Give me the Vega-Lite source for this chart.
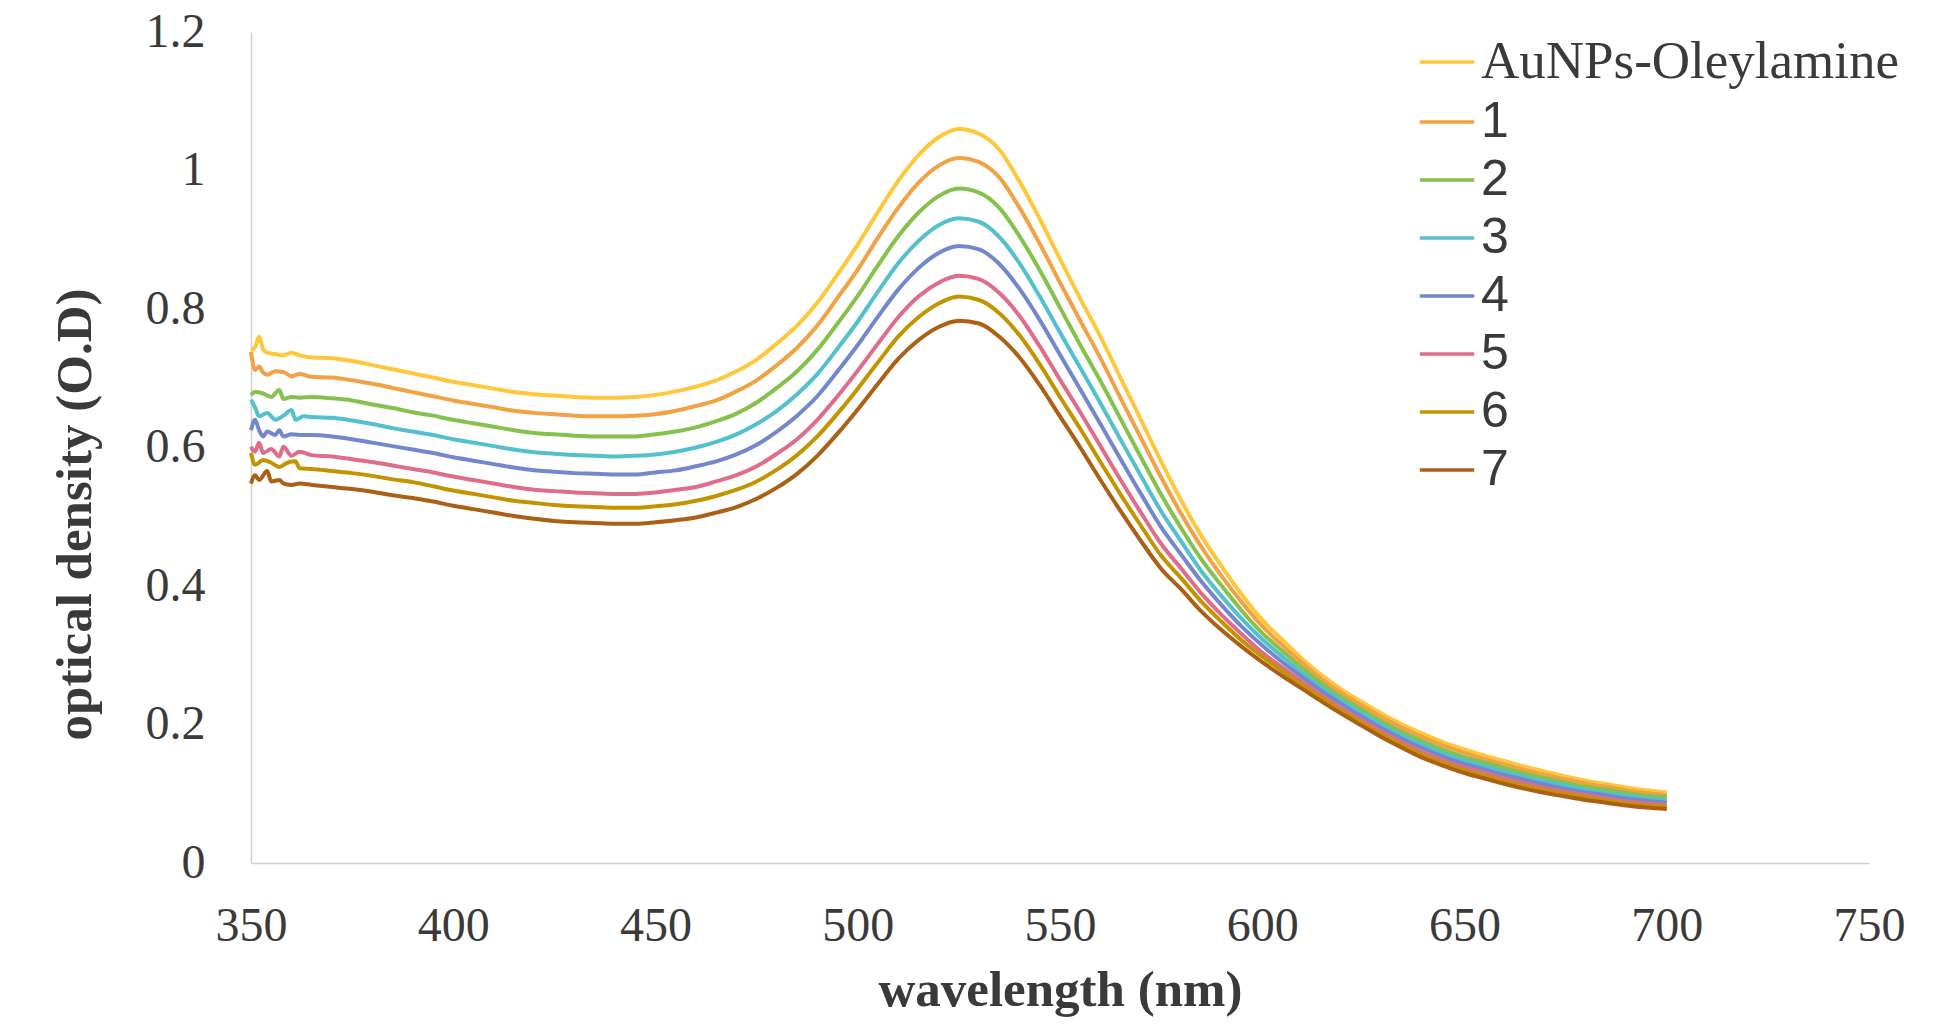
{
"$schema": "https://vega.github.io/schema/vega-lite/v6.json",
"width": 1618, "height": 831,
"autosize": {"type": "none"},
"padding": {"left": 251, "top": 32, "right": 72, "bottom": 164},
"background": "white",
"config": {
  "view": {"stroke": null},
  "axis": {"grid": false, "ticks": false, "tickSize": 0, "domainColor": "#d0d0d0", "domainWidth": 1.5,
    "labelFont": "Liberation Serif", "labelFontSize": 48, "labelColor": "#3a3a3a",
    "titleFont": "Liberation Serif", "titleFontWeight": "bold", "titleFontSize": 51, "titleColor": "#3a3a3a"}
},
"data": {"values": [
{"s":"AuNPs-Oleylamine","x":350,"y":0.740},{"s":"AuNPs-Oleylamine","x":351,"y":0.745},{"s":"AuNPs-Oleylamine","x":352,"y":0.760},{"s":"AuNPs-Oleylamine","x":353,"y":0.742},{"s":"AuNPs-Oleylamine","x":354,"y":0.737},{"s":"AuNPs-Oleylamine","x":356,"y":0.735},{"s":"AuNPs-Oleylamine","x":358,"y":0.733},{"s":"AuNPs-Oleylamine","x":360,"y":0.737},{"s":"AuNPs-Oleylamine","x":362,"y":0.733},{"s":"AuNPs-Oleylamine","x":365,"y":0.730},{"s":"AuNPs-Oleylamine","x":370,"y":0.729},{"s":"AuNPs-Oleylamine","x":375,"y":0.725},{"s":"AuNPs-Oleylamine","x":380,"y":0.719},{"s":"AuNPs-Oleylamine","x":385,"y":0.713},{"s":"AuNPs-Oleylamine","x":390,"y":0.707},{"s":"AuNPs-Oleylamine","x":395,"y":0.701},{"s":"AuNPs-Oleylamine","x":400,"y":0.695},{"s":"AuNPs-Oleylamine","x":405,"y":0.690},{"s":"AuNPs-Oleylamine","x":410,"y":0.685},{"s":"AuNPs-Oleylamine","x":415,"y":0.680},{"s":"AuNPs-Oleylamine","x":420,"y":0.677},{"s":"AuNPs-Oleylamine","x":425,"y":0.675},{"s":"AuNPs-Oleylamine","x":430,"y":0.673},{"s":"AuNPs-Oleylamine","x":435,"y":0.672},{"s":"AuNPs-Oleylamine","x":440,"y":0.672},{"s":"AuNPs-Oleylamine","x":445,"y":0.673},{"s":"AuNPs-Oleylamine","x":450,"y":0.676},{"s":"AuNPs-Oleylamine","x":455,"y":0.681},{"s":"AuNPs-Oleylamine","x":460,"y":0.688},{"s":"AuNPs-Oleylamine","x":465,"y":0.697},{"s":"AuNPs-Oleylamine","x":470,"y":0.710},{"s":"AuNPs-Oleylamine","x":475,"y":0.727},{"s":"AuNPs-Oleylamine","x":480,"y":0.750},{"s":"AuNPs-Oleylamine","x":485,"y":0.776},{"s":"AuNPs-Oleylamine","x":490,"y":0.809},{"s":"AuNPs-Oleylamine","x":495,"y":0.850},{"s":"AuNPs-Oleylamine","x":500,"y":0.893},{"s":"AuNPs-Oleylamine","x":505,"y":0.940},{"s":"AuNPs-Oleylamine","x":510,"y":0.985},{"s":"AuNPs-Oleylamine","x":515,"y":1.022},{"s":"AuNPs-Oleylamine","x":520,"y":1.048},{"s":"AuNPs-Oleylamine","x":525,"y":1.060},{"s":"AuNPs-Oleylamine","x":530,"y":1.053},{"s":"AuNPs-Oleylamine","x":535,"y":1.030},{"s":"AuNPs-Oleylamine","x":540,"y":0.984},{"s":"AuNPs-Oleylamine","x":545,"y":0.930},{"s":"AuNPs-Oleylamine","x":550,"y":0.872},{"s":"AuNPs-Oleylamine","x":555,"y":0.815},{"s":"AuNPs-Oleylamine","x":560,"y":0.760},{"s":"AuNPs-Oleylamine","x":565,"y":0.700},{"s":"AuNPs-Oleylamine","x":570,"y":0.640},{"s":"AuNPs-Oleylamine","x":575,"y":0.580},{"s":"AuNPs-Oleylamine","x":580,"y":0.523},{"s":"AuNPs-Oleylamine","x":585,"y":0.472},{"s":"AuNPs-Oleylamine","x":590,"y":0.428},{"s":"AuNPs-Oleylamine","x":595,"y":0.387},{"s":"AuNPs-Oleylamine","x":600,"y":0.351},{"s":"AuNPs-Oleylamine","x":605,"y":0.322},{"s":"AuNPs-Oleylamine","x":610,"y":0.294},{"s":"AuNPs-Oleylamine","x":615,"y":0.270},{"s":"AuNPs-Oleylamine","x":620,"y":0.249},{"s":"AuNPs-Oleylamine","x":625,"y":0.231},{"s":"AuNPs-Oleylamine","x":630,"y":0.214},{"s":"AuNPs-Oleylamine","x":635,"y":0.199},{"s":"AuNPs-Oleylamine","x":640,"y":0.186},{"s":"AuNPs-Oleylamine","x":645,"y":0.174},{"s":"AuNPs-Oleylamine","x":650,"y":0.164},{"s":"AuNPs-Oleylamine","x":655,"y":0.155},{"s":"AuNPs-Oleylamine","x":660,"y":0.147},{"s":"AuNPs-Oleylamine","x":665,"y":0.139},{"s":"AuNPs-Oleylamine","x":670,"y":0.132},{"s":"AuNPs-Oleylamine","x":675,"y":0.125},{"s":"AuNPs-Oleylamine","x":680,"y":0.119},{"s":"AuNPs-Oleylamine","x":685,"y":0.114},{"s":"AuNPs-Oleylamine","x":690,"y":0.109},{"s":"AuNPs-Oleylamine","x":695,"y":0.105},{"s":"AuNPs-Oleylamine","x":700,"y":0.102},
{"s":"1","x":350,"y":0.738},{"s":"1","x":351,"y":0.712},{"s":"1","x":352,"y":0.717},{"s":"1","x":353,"y":0.708},{"s":"1","x":354,"y":0.705},{"s":"1","x":356,"y":0.710},{"s":"1","x":358,"y":0.709},{"s":"1","x":360,"y":0.703},{"s":"1","x":362,"y":0.706},{"s":"1","x":365,"y":0.702},{"s":"1","x":370,"y":0.701},{"s":"1","x":375,"y":0.697},{"s":"1","x":380,"y":0.692},{"s":"1","x":385,"y":0.686},{"s":"1","x":390,"y":0.680},{"s":"1","x":395,"y":0.674},{"s":"1","x":400,"y":0.668},{"s":"1","x":405,"y":0.663},{"s":"1","x":410,"y":0.658},{"s":"1","x":415,"y":0.653},{"s":"1","x":420,"y":0.650},{"s":"1","x":425,"y":0.648},{"s":"1","x":430,"y":0.646},{"s":"1","x":435,"y":0.645},{"s":"1","x":440,"y":0.645},{"s":"1","x":445,"y":0.646},{"s":"1","x":450,"y":0.648},{"s":"1","x":455,"y":0.653},{"s":"1","x":460,"y":0.660},{"s":"1","x":465,"y":0.668},{"s":"1","x":470,"y":0.681},{"s":"1","x":475,"y":0.697},{"s":"1","x":480,"y":0.719},{"s":"1","x":485,"y":0.744},{"s":"1","x":490,"y":0.776},{"s":"1","x":495,"y":0.816},{"s":"1","x":500,"y":0.857},{"s":"1","x":505,"y":0.903},{"s":"1","x":510,"y":0.946},{"s":"1","x":515,"y":0.982},{"s":"1","x":520,"y":1.007},{"s":"1","x":525,"y":1.018},{"s":"1","x":530,"y":1.012},{"s":"1","x":535,"y":0.990},{"s":"1","x":540,"y":0.946},{"s":"1","x":545,"y":0.894},{"s":"1","x":550,"y":0.838},{"s":"1","x":555,"y":0.783},{"s":"1","x":560,"y":0.729},{"s":"1","x":565,"y":0.671},{"s":"1","x":570,"y":0.614},{"s":"1","x":575,"y":0.557},{"s":"1","x":580,"y":0.504},{"s":"1","x":585,"y":0.456},{"s":"1","x":590,"y":0.414},{"s":"1","x":595,"y":0.376},{"s":"1","x":600,"y":0.342},{"s":"1","x":605,"y":0.314},{"s":"1","x":610,"y":0.288},{"s":"1","x":615,"y":0.264},{"s":"1","x":620,"y":0.244},{"s":"1","x":625,"y":0.226},{"s":"1","x":630,"y":0.209},{"s":"1","x":635,"y":0.194},{"s":"1","x":640,"y":0.181},{"s":"1","x":645,"y":0.169},{"s":"1","x":650,"y":0.159},{"s":"1","x":655,"y":0.150},{"s":"1","x":660,"y":0.142},{"s":"1","x":665,"y":0.134},{"s":"1","x":670,"y":0.127},{"s":"1","x":675,"y":0.121},{"s":"1","x":680,"y":0.115},{"s":"1","x":685,"y":0.110},{"s":"1","x":690,"y":0.105},{"s":"1","x":695,"y":0.101},{"s":"1","x":700,"y":0.098},
{"s":"2","x":350,"y":0.676},{"s":"2","x":351,"y":0.680},{"s":"2","x":353,"y":0.678},{"s":"2","x":355,"y":0.673},{"s":"2","x":357,"y":0.683},{"s":"2","x":358,"y":0.670},{"s":"2","x":360,"y":0.673},{"s":"2","x":362,"y":0.672},{"s":"2","x":365,"y":0.673},{"s":"2","x":370,"y":0.671},{"s":"2","x":375,"y":0.668},{"s":"2","x":380,"y":0.662},{"s":"2","x":385,"y":0.657},{"s":"2","x":390,"y":0.651},{"s":"2","x":395,"y":0.646},{"s":"2","x":400,"y":0.640},{"s":"2","x":405,"y":0.635},{"s":"2","x":410,"y":0.630},{"s":"2","x":415,"y":0.625},{"s":"2","x":420,"y":0.621},{"s":"2","x":425,"y":0.619},{"s":"2","x":430,"y":0.617},{"s":"2","x":435,"y":0.616},{"s":"2","x":440,"y":0.616},{"s":"2","x":445,"y":0.616},{"s":"2","x":450,"y":0.619},{"s":"2","x":455,"y":0.623},{"s":"2","x":460,"y":0.629},{"s":"2","x":465,"y":0.638},{"s":"2","x":470,"y":0.649},{"s":"2","x":475,"y":0.665},{"s":"2","x":480,"y":0.686},{"s":"2","x":485,"y":0.710},{"s":"2","x":490,"y":0.741},{"s":"2","x":495,"y":0.779},{"s":"2","x":500,"y":0.819},{"s":"2","x":505,"y":0.863},{"s":"2","x":510,"y":0.905},{"s":"2","x":515,"y":0.939},{"s":"2","x":520,"y":0.963},{"s":"2","x":525,"y":0.974},{"s":"2","x":530,"y":0.968},{"s":"2","x":535,"y":0.946},{"s":"2","x":540,"y":0.905},{"s":"2","x":545,"y":0.856},{"s":"2","x":550,"y":0.802},{"s":"2","x":555,"y":0.748},{"s":"2","x":560,"y":0.696},{"s":"2","x":565,"y":0.641},{"s":"2","x":570,"y":0.586},{"s":"2","x":575,"y":0.532},{"s":"2","x":580,"y":0.483},{"s":"2","x":585,"y":0.438},{"s":"2","x":590,"y":0.400},{"s":"2","x":595,"y":0.364},{"s":"2","x":600,"y":0.332},{"s":"2","x":605,"y":0.306},{"s":"2","x":610,"y":0.281},{"s":"2","x":615,"y":0.258},{"s":"2","x":620,"y":0.238},{"s":"2","x":625,"y":0.220},{"s":"2","x":630,"y":0.203},{"s":"2","x":635,"y":0.188},{"s":"2","x":640,"y":0.175},{"s":"2","x":645,"y":0.163},{"s":"2","x":650,"y":0.153},{"s":"2","x":655,"y":0.145},{"s":"2","x":660,"y":0.137},{"s":"2","x":665,"y":0.129},{"s":"2","x":670,"y":0.122},{"s":"2","x":675,"y":0.116},{"s":"2","x":680,"y":0.110},{"s":"2","x":685,"y":0.106},{"s":"2","x":690,"y":0.101},{"s":"2","x":695,"y":0.097},{"s":"2","x":700,"y":0.095},
{"s":"3","x":350,"y":0.669},{"s":"3","x":351,"y":0.658},{"s":"3","x":352,"y":0.645},{"s":"3","x":354,"y":0.650},{"s":"3","x":356,"y":0.640},{"s":"3","x":358,"y":0.646},{"s":"3","x":360,"y":0.654},{"s":"3","x":361,"y":0.640},{"s":"3","x":363,"y":0.645},{"s":"3","x":365,"y":0.644},{"s":"3","x":370,"y":0.643},{"s":"3","x":375,"y":0.639},{"s":"3","x":380,"y":0.634},{"s":"3","x":385,"y":0.628},{"s":"3","x":390,"y":0.623},{"s":"3","x":395,"y":0.618},{"s":"3","x":400,"y":0.612},{"s":"3","x":405,"y":0.607},{"s":"3","x":410,"y":0.602},{"s":"3","x":415,"y":0.597},{"s":"3","x":420,"y":0.593},{"s":"3","x":425,"y":0.591},{"s":"3","x":430,"y":0.589},{"s":"3","x":435,"y":0.588},{"s":"3","x":440,"y":0.587},{"s":"3","x":445,"y":0.588},{"s":"3","x":450,"y":0.590},{"s":"3","x":455,"y":0.594},{"s":"3","x":460,"y":0.600},{"s":"3","x":465,"y":0.608},{"s":"3","x":470,"y":0.619},{"s":"3","x":475,"y":0.634},{"s":"3","x":480,"y":0.653},{"s":"3","x":485,"y":0.677},{"s":"3","x":490,"y":0.706},{"s":"3","x":495,"y":0.743},{"s":"3","x":500,"y":0.782},{"s":"3","x":505,"y":0.825},{"s":"3","x":510,"y":0.866},{"s":"3","x":515,"y":0.898},{"s":"3","x":520,"y":0.921},{"s":"3","x":525,"y":0.931},{"s":"3","x":530,"y":0.926},{"s":"3","x":535,"y":0.904},{"s":"3","x":540,"y":0.866},{"s":"3","x":545,"y":0.818},{"s":"3","x":550,"y":0.766},{"s":"3","x":555,"y":0.715},{"s":"3","x":560,"y":0.664},{"s":"3","x":565,"y":0.611},{"s":"3","x":570,"y":0.559},{"s":"3","x":575,"y":0.508},{"s":"3","x":580,"y":0.464},{"s":"3","x":585,"y":0.421},{"s":"3","x":590,"y":0.385},{"s":"3","x":595,"y":0.352},{"s":"3","x":600,"y":0.323},{"s":"3","x":605,"y":0.298},{"s":"3","x":610,"y":0.274},{"s":"3","x":615,"y":0.252},{"s":"3","x":620,"y":0.233},{"s":"3","x":625,"y":0.215},{"s":"3","x":630,"y":0.198},{"s":"3","x":635,"y":0.183},{"s":"3","x":640,"y":0.170},{"s":"3","x":645,"y":0.158},{"s":"3","x":650,"y":0.148},{"s":"3","x":655,"y":0.140},{"s":"3","x":660,"y":0.132},{"s":"3","x":665,"y":0.124},{"s":"3","x":670,"y":0.118},{"s":"3","x":675,"y":0.112},{"s":"3","x":680,"y":0.106},{"s":"3","x":685,"y":0.101},{"s":"3","x":690,"y":0.097},{"s":"3","x":695,"y":0.093},{"s":"3","x":700,"y":0.091},
{"s":"4","x":350,"y":0.625},{"s":"4","x":351,"y":0.640},{"s":"4","x":352,"y":0.625},{"s":"4","x":353,"y":0.616},{"s":"4","x":354,"y":0.623},{"s":"4","x":356,"y":0.618},{"s":"4","x":357,"y":0.625},{"s":"4","x":358,"y":0.616},{"s":"4","x":360,"y":0.619},{"s":"4","x":363,"y":0.618},{"s":"4","x":365,"y":0.618},{"s":"4","x":370,"y":0.616},{"s":"4","x":375,"y":0.612},{"s":"4","x":380,"y":0.607},{"s":"4","x":385,"y":0.602},{"s":"4","x":390,"y":0.597},{"s":"4","x":395,"y":0.592},{"s":"4","x":400,"y":0.586},{"s":"4","x":405,"y":0.581},{"s":"4","x":410,"y":0.576},{"s":"4","x":415,"y":0.571},{"s":"4","x":420,"y":0.567},{"s":"4","x":425,"y":0.565},{"s":"4","x":430,"y":0.563},{"s":"4","x":435,"y":0.562},{"s":"4","x":440,"y":0.561},{"s":"4","x":445,"y":0.561},{"s":"4","x":450,"y":0.564},{"s":"4","x":455,"y":0.567},{"s":"4","x":460,"y":0.573},{"s":"4","x":465,"y":0.580},{"s":"4","x":470,"y":0.590},{"s":"4","x":475,"y":0.604},{"s":"4","x":480,"y":0.623},{"s":"4","x":485,"y":0.646},{"s":"4","x":490,"y":0.674},{"s":"4","x":495,"y":0.710},{"s":"4","x":500,"y":0.748},{"s":"4","x":505,"y":0.789},{"s":"4","x":510,"y":0.828},{"s":"4","x":515,"y":0.859},{"s":"4","x":520,"y":0.881},{"s":"4","x":525,"y":0.891},{"s":"4","x":530,"y":0.886},{"s":"4","x":535,"y":0.865},{"s":"4","x":540,"y":0.829},{"s":"4","x":545,"y":0.784},{"s":"4","x":550,"y":0.734},{"s":"4","x":555,"y":0.684},{"s":"4","x":560,"y":0.634},{"s":"4","x":565,"y":0.583},{"s":"4","x":570,"y":0.533},{"s":"4","x":575,"y":0.485},{"s":"4","x":580,"y":0.445},{"s":"4","x":585,"y":0.406},{"s":"4","x":590,"y":0.372},{"s":"4","x":595,"y":0.341},{"s":"4","x":600,"y":0.314},{"s":"4","x":605,"y":0.290},{"s":"4","x":610,"y":0.268},{"s":"4","x":615,"y":0.247},{"s":"4","x":620,"y":0.228},{"s":"4","x":625,"y":0.210},{"s":"4","x":630,"y":0.193},{"s":"4","x":635,"y":0.178},{"s":"4","x":640,"y":0.165},{"s":"4","x":645,"y":0.153},{"s":"4","x":650,"y":0.143},{"s":"4","x":655,"y":0.135},{"s":"4","x":660,"y":0.127},{"s":"4","x":665,"y":0.120},{"s":"4","x":670,"y":0.113},{"s":"4","x":675,"y":0.107},{"s":"4","x":680,"y":0.102},{"s":"4","x":685,"y":0.098},{"s":"4","x":690,"y":0.093},{"s":"4","x":695,"y":0.090},{"s":"4","x":700,"y":0.087},
{"s":"5","x":350,"y":0.601},{"s":"5","x":351,"y":0.594},{"s":"5","x":352,"y":0.607},{"s":"5","x":353,"y":0.592},{"s":"5","x":355,"y":0.598},{"s":"5","x":357,"y":0.587},{"s":"5","x":358,"y":0.601},{"s":"5","x":360,"y":0.588},{"s":"5","x":362,"y":0.594},{"s":"5","x":365,"y":0.589},{"s":"5","x":370,"y":0.587},{"s":"5","x":375,"y":0.583},{"s":"5","x":380,"y":0.579},{"s":"5","x":385,"y":0.574},{"s":"5","x":390,"y":0.569},{"s":"5","x":395,"y":0.564},{"s":"5","x":400,"y":0.558},{"s":"5","x":405,"y":0.553},{"s":"5","x":410,"y":0.548},{"s":"5","x":415,"y":0.543},{"s":"5","x":420,"y":0.539},{"s":"5","x":425,"y":0.537},{"s":"5","x":430,"y":0.535},{"s":"5","x":435,"y":0.534},{"s":"5","x":440,"y":0.533},{"s":"5","x":445,"y":0.533},{"s":"5","x":450,"y":0.535},{"s":"5","x":455,"y":0.539},{"s":"5","x":460,"y":0.543},{"s":"5","x":465,"y":0.551},{"s":"5","x":470,"y":0.560},{"s":"5","x":475,"y":0.573},{"s":"5","x":480,"y":0.591},{"s":"5","x":485,"y":0.612},{"s":"5","x":490,"y":0.640},{"s":"5","x":495,"y":0.674},{"s":"5","x":500,"y":0.711},{"s":"5","x":505,"y":0.750},{"s":"5","x":510,"y":0.788},{"s":"5","x":515,"y":0.818},{"s":"5","x":520,"y":0.838},{"s":"5","x":525,"y":0.848},{"s":"5","x":530,"y":0.843},{"s":"5","x":535,"y":0.823},{"s":"5","x":540,"y":0.790},{"s":"5","x":545,"y":0.746},{"s":"5","x":550,"y":0.698},{"s":"5","x":555,"y":0.651},{"s":"5","x":560,"y":0.602},{"s":"5","x":565,"y":0.553},{"s":"5","x":570,"y":0.506},{"s":"5","x":575,"y":0.461},{"s":"5","x":580,"y":0.425},{"s":"5","x":585,"y":0.389},{"s":"5","x":590,"y":0.358},{"s":"5","x":595,"y":0.330},{"s":"5","x":600,"y":0.304},{"s":"5","x":605,"y":0.282},{"s":"5","x":610,"y":0.261},{"s":"5","x":615,"y":0.241},{"s":"5","x":620,"y":0.222},{"s":"5","x":625,"y":0.205},{"s":"5","x":630,"y":0.188},{"s":"5","x":635,"y":0.173},{"s":"5","x":640,"y":0.159},{"s":"5","x":645,"y":0.148},{"s":"5","x":650,"y":0.138},{"s":"5","x":655,"y":0.130},{"s":"5","x":660,"y":0.122},{"s":"5","x":665,"y":0.115},{"s":"5","x":670,"y":0.108},{"s":"5","x":675,"y":0.103},{"s":"5","x":680,"y":0.098},{"s":"5","x":685,"y":0.093},{"s":"5","x":690,"y":0.089},{"s":"5","x":695,"y":0.086},{"s":"5","x":700,"y":0.084},
{"s":"6","x":350,"y":0.592},{"s":"6","x":351,"y":0.575},{"s":"6","x":353,"y":0.582},{"s":"6","x":355,"y":0.578},{"s":"6","x":357,"y":0.572},{"s":"6","x":359,"y":0.578},{"s":"6","x":361,"y":0.580},{"s":"6","x":362,"y":0.570},{"s":"6","x":365,"y":0.569},{"s":"6","x":370,"y":0.566},{"s":"6","x":375,"y":0.563},{"s":"6","x":380,"y":0.559},{"s":"6","x":385,"y":0.554},{"s":"6","x":390,"y":0.550},{"s":"6","x":395,"y":0.544},{"s":"6","x":400,"y":0.538},{"s":"6","x":405,"y":0.533},{"s":"6","x":410,"y":0.528},{"s":"6","x":415,"y":0.523},{"s":"6","x":420,"y":0.520},{"s":"6","x":425,"y":0.517},{"s":"6","x":430,"y":0.515},{"s":"6","x":435,"y":0.514},{"s":"6","x":440,"y":0.513},{"s":"6","x":445,"y":0.513},{"s":"6","x":450,"y":0.515},{"s":"6","x":455,"y":0.518},{"s":"6","x":460,"y":0.523},{"s":"6","x":465,"y":0.530},{"s":"6","x":470,"y":0.539},{"s":"6","x":475,"y":0.551},{"s":"6","x":480,"y":0.568},{"s":"6","x":485,"y":0.589},{"s":"6","x":490,"y":0.616},{"s":"6","x":495,"y":0.649},{"s":"6","x":500,"y":0.685},{"s":"6","x":505,"y":0.723},{"s":"6","x":510,"y":0.760},{"s":"6","x":515,"y":0.788},{"s":"6","x":520,"y":0.808},{"s":"6","x":525,"y":0.818},{"s":"6","x":530,"y":0.813},{"s":"6","x":535,"y":0.794},{"s":"6","x":540,"y":0.762},{"s":"6","x":545,"y":0.720},{"s":"6","x":550,"y":0.673},{"s":"6","x":555,"y":0.627},{"s":"6","x":560,"y":0.579},{"s":"6","x":565,"y":0.532},{"s":"6","x":570,"y":0.487},{"s":"6","x":575,"y":0.444},{"s":"6","x":580,"y":0.411},{"s":"6","x":585,"y":0.377},{"s":"6","x":590,"y":0.348},{"s":"6","x":595,"y":0.321},{"s":"6","x":600,"y":0.298},{"s":"6","x":605,"y":0.277},{"s":"6","x":610,"y":0.256},{"s":"6","x":615,"y":0.237},{"s":"6","x":620,"y":0.218},{"s":"6","x":625,"y":0.201},{"s":"6","x":630,"y":0.184},{"s":"6","x":635,"y":0.169},{"s":"6","x":640,"y":0.155},{"s":"6","x":645,"y":0.144},{"s":"6","x":650,"y":0.134},{"s":"6","x":655,"y":0.126},{"s":"6","x":660,"y":0.118},{"s":"6","x":665,"y":0.111},{"s":"6","x":670,"y":0.105},{"s":"6","x":675,"y":0.100},{"s":"6","x":680,"y":0.095},{"s":"6","x":685,"y":0.090},{"s":"6","x":690,"y":0.086},{"s":"6","x":695,"y":0.083},{"s":"6","x":700,"y":0.081},
{"s":"7","x":350,"y":0.548},{"s":"7","x":351,"y":0.560},{"s":"7","x":352,"y":0.553},{"s":"7","x":354,"y":0.566},{"s":"7","x":355,"y":0.551},{"s":"7","x":357,"y":0.553},{"s":"7","x":358,"y":0.548},{"s":"7","x":360,"y":0.546},{"s":"7","x":362,"y":0.548},{"s":"7","x":365,"y":0.546},{"s":"7","x":370,"y":0.543},{"s":"7","x":375,"y":0.540},{"s":"7","x":380,"y":0.536},{"s":"7","x":385,"y":0.531},{"s":"7","x":390,"y":0.527},{"s":"7","x":395,"y":0.522},{"s":"7","x":400,"y":0.516},{"s":"7","x":405,"y":0.511},{"s":"7","x":410,"y":0.506},{"s":"7","x":415,"y":0.501},{"s":"7","x":420,"y":0.497},{"s":"7","x":425,"y":0.494},{"s":"7","x":430,"y":0.492},{"s":"7","x":435,"y":0.491},{"s":"7","x":440,"y":0.490},{"s":"7","x":445,"y":0.490},{"s":"7","x":450,"y":0.492},{"s":"7","x":455,"y":0.495},{"s":"7","x":460,"y":0.499},{"s":"7","x":465,"y":0.506},{"s":"7","x":470,"y":0.514},{"s":"7","x":475,"y":0.526},{"s":"7","x":480,"y":0.542},{"s":"7","x":485,"y":0.562},{"s":"7","x":490,"y":0.588},{"s":"7","x":495,"y":0.620},{"s":"7","x":500,"y":0.655},{"s":"7","x":505,"y":0.692},{"s":"7","x":510,"y":0.728},{"s":"7","x":515,"y":0.755},{"s":"7","x":520,"y":0.774},{"s":"7","x":525,"y":0.783},{"s":"7","x":530,"y":0.779},{"s":"7","x":535,"y":0.760},{"s":"7","x":540,"y":0.730},{"s":"7","x":545,"y":0.690},{"s":"7","x":550,"y":0.645},{"s":"7","x":555,"y":0.600},{"s":"7","x":560,"y":0.553},{"s":"7","x":565,"y":0.508},{"s":"7","x":570,"y":0.465},{"s":"7","x":575,"y":0.425},{"s":"7","x":580,"y":0.395},{"s":"7","x":585,"y":0.363},{"s":"7","x":590,"y":0.336},{"s":"7","x":595,"y":0.312},{"s":"7","x":600,"y":0.290},{"s":"7","x":605,"y":0.270},{"s":"7","x":610,"y":0.251},{"s":"7","x":615,"y":0.232},{"s":"7","x":620,"y":0.214},{"s":"7","x":625,"y":0.197},{"s":"7","x":630,"y":0.180},{"s":"7","x":635,"y":0.165},{"s":"7","x":640,"y":0.151},{"s":"7","x":645,"y":0.140},{"s":"7","x":650,"y":0.130},{"s":"7","x":655,"y":0.122},{"s":"7","x":660,"y":0.114},{"s":"7","x":665,"y":0.107},{"s":"7","x":670,"y":0.101},{"s":"7","x":675,"y":0.096},{"s":"7","x":680,"y":0.091},{"s":"7","x":685,"y":0.087},{"s":"7","x":690,"y":0.083},{"s":"7","x":695,"y":0.080},{"s":"7","x":700,"y":0.078}
]},
"mark": {"type": "line", "strokeWidth": 4, "clip": false, "interpolate": "monotone"},
"encoding": {
  "x": {"field": "x", "type": "quantitative",
    "scale": {"domain": [350, 750], "nice": false, "zero": false},
    "axis": {"values": [350,400,450,500,550,600,650,700,750], "labelPadding": 39, "labelFlush": false,
      "title": "wavelength (nm)", "titleY": 142, "titleBaseline": "alphabetic"}},
  "y": {"field": "y", "type": "quantitative",
    "scale": {"domain": [0, 1.2], "nice": false},
    "axis": {"values": [0,0.2,0.4,0.6,0.8,1,1.2], "format": "~g", "labelPadding": 46, "labelFlush": false,
      "title": "optical density (O.D)", "titleX": -161, "titleY": 482, "titleAngle": 270, "titleAlign": "center", "titleBaseline": "alphabetic"}},
  "color": {"field": "s", "type": "nominal",
    "scale": {"domain": ["AuNPs-Oleylamine","1","2","3","4","5","6","7"],
      "range": ["#FFC83A","#F2A244","#84C24B","#52C1CC","#7387CC","#E06C8C","#C49400","#AB6013"]},
    "legend": {"title": null, "orient": "none", "legendX": 1167, "legendY": 1, "padding": 0,
      "symbolType": "stroke", "symbolSize": 2960, "symbolStrokeWidth": 3.5, "rowPadding": 4,
      "labelOffset": 5, "labelColor": "#3a3a3a", "labelLimit": 600,
      "labelFontSize": {"expr": "datum.label == 'AuNPs-Oleylamine' ? 53 : 50"},
      "labelFont": {"expr": "datum.label == 'AuNPs-Oleylamine' ? 'Liberation Serif' : 'Liberation Sans'"}}}
}
}
